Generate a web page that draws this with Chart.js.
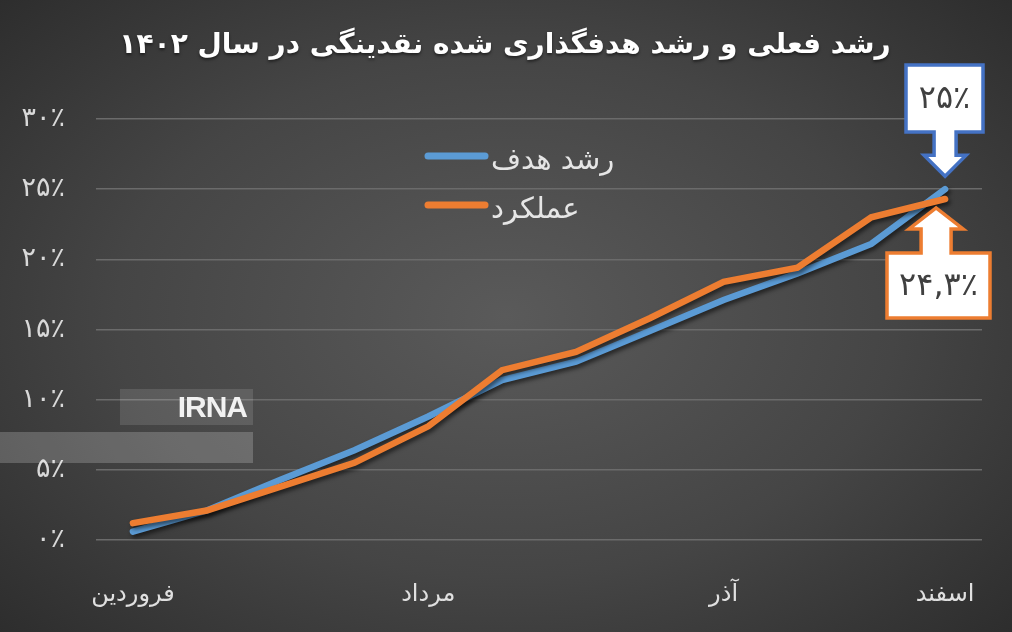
<!DOCTYPE html>
<html lang="fa">
<head>
<meta charset="utf-8">
<script src="https://cdn.jsdelivr.net/npm/chart.js@4.4.1/dist/chart.umd.min.js"></script>
<style>
    html, body { margin: 0; padding: 0; }
    body {
        width: 1012px;
        height: 632px;
        overflow: hidden;
        background: radial-gradient(ellipse 70% 75% at 50% 50%, #5a5a5a 0%, #454545 55%, #2c2c2c 100%);
        position: relative;
    }
    #wrap { position: absolute; left: 0; top: 0; width: 1012px; height: 632px; }
    .band { position: absolute; left: 0; top: 432px; width: 253px; height: 31px; background: rgba(255,255,255,0.2); }
    .logo {
        position: absolute; left: 120px; top: 389px; width: 133px; height: 36px;
        background: rgba(255,255,255,0.12);
        color: #f2f2f2; font: bold 30px "Liberation Sans", Arial, sans-serif;
        line-height: 36px; text-align: right; padding-right: 6px; box-sizing: border-box;
        letter-spacing: -1px;
    }
</style>
</head>
<body>
<div id="wrap"><canvas id="chart" width="1012" height="632"></canvas></div>
<div class="band"></div>
<div class="logo">IRNA</div>
<script>
// months of 1402, only four are labelled on the axis
const months = ['فروردین', '', '', '', 'مرداد', '', '', '', 'آذر', '', '', 'اسفند'];
const targetGrowth = [0.6, 2.1, 4.3, 6.4, 8.8, 11.4, 12.7, 14.9, 17.1, 19.0, 21.1, 25];
const actualGrowth = [1.2, 2.1, 3.8, 5.5, 8.1, 12.1, 13.4, 15.8, 18.4, 19.4, 23.0, 24.3];
const seriesNames = ['رشد هدف', 'عملکرد'];
const yTicks = [0, 5, 10, 15, 20, 25, 30];
const chartTitle = 'رشد فعلی و رشد هدفگذاری شده نقدینگی در سال ۱۴۰۲';

const BLUE = '#5b9bd5';
const ORANGE = '#ed7d31';
const FA = "'DejaVu Sans', 'Noto Sans', sans-serif";

function faDigits(v) {
    const d = '۰۱۲۳۴۵۶۷۸۹';
    return String(v).replace(/[0-9]/g, c => d[c]).replace('.', ',');
}

// soft drop shadow under the lines
const shadowPlugin = {
    id: 'lineShadow',
    beforeDatasetDraw(chart) {
        const ctx = chart.ctx;
        ctx.save();
        ctx.shadowColor = 'rgba(0,0,0,0.55)';
        ctx.shadowBlur = 4;
        ctx.shadowOffsetX = 2;
        ctx.shadowOffsetY = 3;
    },
    afterDatasetDraw(chart) {
        chart.ctx.restore();
    }
};

// title centred over the picture, drawn by hand
const titlePlugin = {
    id: 'pageTitle',
    afterDraw(chart) {
        const ctx = chart.ctx;
        ctx.save();
        ctx.fillStyle = '#ffffff';
        ctx.font = 'bold 28px ' + FA;
        ctx.textAlign = 'center';
        ctx.textBaseline = 'middle';
        ctx.shadowColor = 'rgba(0,0,0,0.5)';
        ctx.shadowBlur = 3;
        ctx.shadowOffsetY = 2;
        ctx.fillText(chartTitle, 505, 46);
        ctx.restore();
    }
};

// legend drawn inside the plot
const innerLegend = {
    id: 'innerLegend',
    afterDatasetsDraw(chart) {
        const ctx = chart.ctx;
        const rows = [{ y: 156 }, { y: 205 }];
        ctx.save();
        chart.data.datasets.forEach((ds, i) => {
            const y = rows[i].y;
            ctx.strokeStyle = ds.borderColor;
            ctx.lineWidth = 7;
            ctx.lineCap = 'round';
            ctx.beginPath();
            ctx.moveTo(428, y);
            ctx.lineTo(485, y);
            ctx.stroke();
            ctx.fillStyle = '#e6e6e6';
            ctx.font = '29px ' + FA;
            ctx.textAlign = 'left';
            ctx.textBaseline = 'middle';
            ctx.fillText(ds.label, 491, y + 5);
        });
        ctx.restore();
    }
};

// callout boxes pointing to the last value of each series
function callout(ctx, tipX, tipY, dir, box, color, text) {
    const shaftW = 11, headW = 21, headH = 21;
    ctx.save();
    ctx.beginPath();
    if (dir === 'down') {
        const baseY = tipY - headH;
        ctx.moveTo(box.x, box.y);
        ctx.lineTo(box.x + box.w, box.y);
        ctx.lineTo(box.x + box.w, box.y + box.h);
        ctx.lineTo(tipX + shaftW, box.y + box.h);
        ctx.lineTo(tipX + shaftW, baseY);
        ctx.lineTo(tipX + headW, baseY);
        ctx.lineTo(tipX, tipY);
        ctx.lineTo(tipX - headW, baseY);
        ctx.lineTo(tipX - shaftW, baseY);
        ctx.lineTo(tipX - shaftW, box.y + box.h);
        ctx.lineTo(box.x, box.y + box.h);
    } else {
        const baseY = tipY + headH;
        ctx.moveTo(box.x, box.y + box.h);
        ctx.lineTo(box.x + box.w, box.y + box.h);
        ctx.lineTo(box.x + box.w, box.y);
        ctx.lineTo(tipX + shaftW + 4, box.y);
        ctx.lineTo(tipX + shaftW + 4, baseY);
        ctx.lineTo(tipX + headW + 6, baseY);
        ctx.lineTo(tipX, tipY);
        ctx.lineTo(tipX - headW - 6, baseY);
        ctx.lineTo(tipX - shaftW - 4, baseY);
        ctx.lineTo(tipX - shaftW - 4, box.y);
        ctx.lineTo(box.x, box.y);
    }
    ctx.closePath();
    ctx.fillStyle = '#ffffff';
    ctx.fill();
    ctx.strokeStyle = color;
    ctx.lineWidth = 3.5;
    ctx.lineJoin = 'miter';
    ctx.stroke();
    ctx.fillStyle = '#404040';
    ctx.font = '32px ' + FA;
    ctx.textAlign = 'center';
    ctx.textBaseline = 'middle';
    ctx.fillText(text, box.x + box.w / 2, box.y + box.h / 2 + 1);
    ctx.restore();
}

const calloutPlugin = {
    id: 'callouts',
    afterDraw(chart) {
        const ctx = chart.ctx;
        const last = months.length - 1;
        const pBlue = chart.getDatasetMeta(0).data[last];
        const pOrange = chart.getDatasetMeta(1).data[last];
        callout(ctx, pBlue.x, pBlue.y - 13, 'down',
            { x: 906, y: 65, w: 77, h: 67 }, '#4472c4',
            faDigits(targetGrowth[last]) + '٪');
        callout(ctx, pOrange.x - 9, pOrange.y + 9, 'up',
            { x: 887, y: 253, w: 103, h: 65 }, ORANGE,
            faDigits(actualGrowth[last]) + '٪');
    }
};

const ctx = document.getElementById('chart').getContext('2d');
new Chart(ctx, {
    type: 'line',
    data: {
        labels: months,
        datasets: [
            {
                label: seriesNames[0],
                data: targetGrowth,
                borderColor: BLUE,
                backgroundColor: BLUE,
                borderWidth: 6.5,
                pointRadius: 0,
                tension: 0,
                borderCapStyle: 'round',
                order: 1
            },
            {
                label: seriesNames[1],
                data: actualGrowth,
                borderColor: ORANGE,
                backgroundColor: ORANGE,
                borderWidth: 6.5,
                pointRadius: 0,
                tension: 0,
                borderCapStyle: 'round',
                order: 0
            }
        ]
    },
    options: {
        responsive: false,
        animation: false,
        layout: { padding: { left: 0, right: 30, top: 119, bottom: 0 } },
        plugins: {
            legend: { display: false },
            tooltip: { enabled: false },
            title: { display: false }
        },
        scales: {
            x: {
                offset: true,
                grid: { display: false },
                border: { display: false },
                ticks: {
                    autoSkip: false,
                    maxRotation: 0,
                    color: '#e0e0e0',
                    font: { family: FA, size: 24 },
                    padding: 32
                },
                afterFit(scale) { scale.height = 92; }
            },
            y: {
                min: 0,
                max: 30,
                afterBuildTicks(scale) { scale.ticks = yTicks.map(v => ({ value: v })); },
                grid: { color: '#6b6b6b', lineWidth: 1.5, drawTicks: false },
                border: { display: false },
                ticks: {
                    color: '#d9d9d9',
                    font: { family: FA, size: 27 },
                    padding: 31,
                    callback: v => faDigits(v) + '٪'
                },
                afterFit(scale) { scale.width = 96; }
            }
        }
    },
    plugins: [shadowPlugin, innerLegend, calloutPlugin, titlePlugin]
});
</script>
</body>
</html>
